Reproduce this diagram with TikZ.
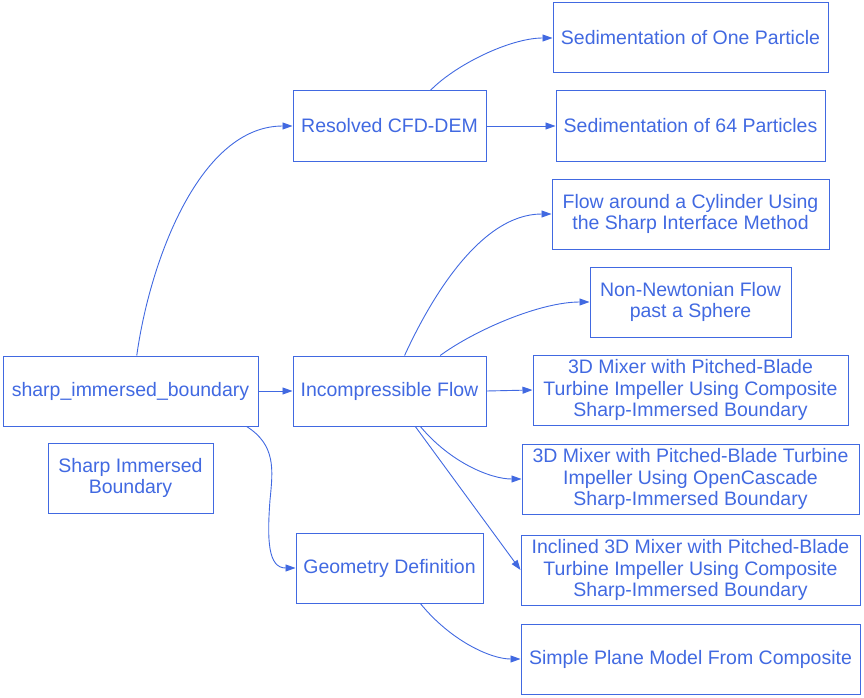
\documentclass[tikz,border=0pt]{standalone}
\usepackage{fontspec}
\setmainfont{Liberation Sans}
\usetikzlibrary{arrows.meta}

\newcommand\topicfont{\fontsize{19.5}{21.5}\selectfont}

\begin{document}
\begin{tikzpicture}[x=1pt, y=-1pt, >={Triangle[length=10pt, width=7pt]}]
  \definecolor{royal}{HTML}{4169E1}
  \tikzset{
    topic/.style={draw=royal, text=royal, line width=1pt, inner sep=0pt,
      minimum height=70pt, align=center, font=\topicfont},
    edge/.style={->, royal, line width=0.9pt}
  }
  \useasboundingbox (0,0) rectangle (864,698);

  % ---- left and middle columns ----------------------------------------------
  \node[topic, minimum width=255pt] (sib) at (130.5,391) {sharp\_immersed\_boundary};
  \node[topic, minimum width=165pt] (sibtitle) at (130.5,478) {Sharp Immersed\\Boundary};
  \node[topic, minimum width=193pt] (res) at (389.5,126) {Resolved CFD-DEM};
  \node[topic, minimum width=193pt] (inc) at (389.5,391) {Incompressible Flow};
  \node[topic, minimum width=187pt] (geo) at (389.5,568) {Geometry Definition};

  % ---- right column, one example per row --------------------------------------
  % name / y / box width / text
  \foreach \nm/\yy/\ww/\txt in {%
    sedone/38/275/{Sedimentation of One Particle},
    sedsix/126/269/{Sedimentation of 64 Particles},
    cyl/214/277/{Flow around a Cylinder Using\\the Sharp Interface Method},
    nonnewt/302/201/{Non-Newtonian Flow\\past a Sphere},
    mixc/390/315/{3D Mixer with Pitched-Blade\\Turbine Impeller Using Composite\\Sharp-Immersed Boundary},
    mixo/479/337/{3D Mixer with Pitched-Blade Turbine\\Impeller Using OpenCascade\\Sharp-Immersed Boundary},
    incl/570/339/{Inclined 3D Mixer with Pitched-Blade\\Turbine Impeller Using Composite\\Sharp-Immersed Boundary},
    plane/659/339/{Simple Plane Model From Composite}%
  }{
    \node[topic, minimum width=\ww pt] (\nm) at (690.5,\yy) {\txt};
  }

  % ---- connectors -------------------------------------------------------------
  \draw[edge] (sib.80) .. controls (150,260) and (200,126) .. (res.west);
  \draw[edge] (sib.east) -- (inc.west);
  \draw[edge] (sib.-17) .. controls (276,445) and (273,470) .. (270,500)
    .. controls (267,540) and (268,568) .. (geo.west);
  \draw[edge] (res.41) .. controls (455,65) and (510,38) .. (sedone.west);
  \draw[edge] (res.east) -- (sedsix.west);
  \draw[edge] (inc.67) .. controls (430,300) and (480,214) .. (cyl.west);
  \draw[edge] (inc.35) .. controls (475,330) and (540,302) .. (nonnewt.west);
  \draw[edge] (inc.east) -- (mixc.west);
  \draw[edge] (inc.-49) .. controls (450,462) and (490,479) .. (mixo.west);
  \draw[edge] (inc.-54) -- (incl.west);
  \draw[edge] (geo.-49) .. controls (450,640) and (490,659) .. (plane.west);
\end{tikzpicture}
\end{document}
